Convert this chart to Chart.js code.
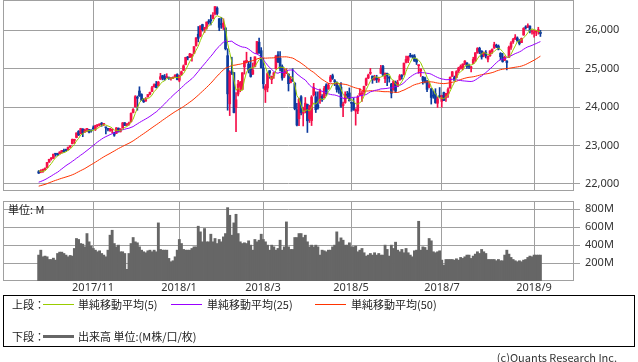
<!DOCTYPE html>
<html>
<head>
<meta charset="utf-8">
<script src="https://cdn.jsdelivr.net/npm/chart.js@4.4.0/dist/chart.umd.min.js"></script>
<style>
body { margin: 0; width: 638px; height: 362px; background: #fff; position: relative; overflow: hidden;
       font-family: "Noto Sans CJK JP", "Noto Sans", sans-serif; color: #222; }
canvas { position: absolute; left: 0; }
#priceChart { top: 0; }
#volumeChart { top: 200px; }
.t { position: absolute; font-size: 11px; line-height: 14px; white-space: nowrap; }
.ln { position: absolute; height: 1px; }
#legendBox { position: absolute; left: 3px; top: 295px; width: 632px; height: 52px; box-sizing: border-box; border: 1px solid #000; }
</style>
</head>
<body>
<canvas id="priceChart" width="638" height="191"></canvas>
<canvas id="volumeChart" width="638" height="96"></canvas>

<div class="t" style="left:8px;top:202px;">単位: M</div>

<div id="legendBox"></div>
<div class="t" style="left:12px;top:297px;">上段：</div>
<div class="ln" style="left:43px;top:304px;width:31px;background:#99cc00;"></div>
<div class="t" style="left:78px;top:297px;">単純移動平均(5)</div>
<div class="ln" style="left:171px;top:304px;width:31px;background:#9900ff;"></div>
<div class="t" style="left:207px;top:297px;">単純移動平均(25)</div>
<div class="ln" style="left:315px;top:304px;width:31px;background:#ff3300;"></div>
<div class="t" style="left:351px;top:297px;">単純移動平均(50)</div>
<div class="t" style="left:12px;top:329px;">下段：</div>
<div class="ln" style="left:43px;top:335px;width:31px;height:3px;background:#666;"></div>
<div class="t" style="left:78px;top:329px;">出来高 単位:(M株/口/枚)</div>
<div class="t" style="right:21px;top:350px;color:#333;">(c)Quants Research Inc.</div>

<script>
// Daily candles, 2017/9/26 - 2018/9/7 (240 trading days)

// closes before the first candle, only used for the moving averages
const priorCloses = [
    21574, 21641, 21611, 21580, 21513, 21613, 21711, 21796, 21830, 21891,
    21963, 22016, 22026, 22092, 22118, 22085, 22048, 21844, 21858, 21993, 21998, 22024,
    21750, 21674, 21703, 21899, 21812, 21783, 21814, 21808, 21865, 21892, 21948,
    21988, 21753, 21807, 21784, 21798, 22057, 22118, 22158, 22203, 22268, 22331, 22370,
    22412, 22359, 22349, 22296
];

const opens = [
    22320, 22310, 22330, 22370,
    22423, 22570, 22655, 22670, 22780, 22790, 22790, 22830, 22870, 22875, 22890, 22960, 23050, 23130, 23210, 23370, 23310, 23430, 23350, 23420, 23410, 23380,
    23440, 23420, 23520, 23540, 23560, 23550, 23470, 23440, 23390, 23400, 23330, 23320, 23450, 23370, 23460, 23590, 23540, 23560, 23620, 23860, 24010,
    24250, 24420, 24330, 24170, 24160, 24270, 24340, 24410, 24530, 24600, 24560, 24730, 24820, 24800, 24770, 24770, 24740, 24750, 24790, 24850,
    24700, 24850, 24960, 25110, 25310, 25300, 25320, 25400, 25600, 25900, 25850, 26150, 26030, 26060, 26240, 26260, 26310, 26430, 26580, 26300, 26150,
    26080, 26060, 25340, 24086, 24900, 24900, 23990, 24340, 24540, 24460, 25050, 25170, 25120, 25000, 24860, 25060, 25400, 25690, 25470,
    25020, 24450, 24500, 24950, 24720, 24830, 25000, 25360, 25270, 25060, 24810, 24880, 24860, 24640, 24710, 24620, 23930, 23700, 24270, 23840, 23900,
    24070, 23700, 23650, 24320, 24270, 24060, 24180, 24280, 24250, 24580, 24480, 24670, 24820, 24680, 24630, 24500, 24520, 24040, 24120, 24320, 24370,
    24120, 24100, 23900, 23900, 24320, 24340, 24400, 24580, 24760, 24880, 24810, 24710, 24760, 24700, 24880, 25060, 24740, 24880, 24780, 24600, 24450, 24650,
    24540, 24710, 24830, 24840, 25170, 25220, 25340, 25350, 25330, 25250, 25080, 24940, 24780, 24760, 24660, 24520, 24480, 24290, 24350, 24100, 24300,
    24150, 24380, 24250, 24340, 24500, 24800, 24770, 24770, 24940, 25020, 25000, 25130, 25150, 25060, 25020, 25140, 25230, 25420, 25530, 25460, 25360,
    25420, 25250, 25340, 25450, 25540, 25600, 25590, 25400, 25300, 25220, 25200, 25300, 25560, 25700, 25770, 25800, 25730, 25680, 25880, 26080, 26080, 26110, 25960,
    25920, 25960, 25990, 25950
];

const highs = [
    22350, 22370, 22384, 22420,
    22565, 22645, 22685, 22777, 22790, 22800, 22840, 22873, 22905, 22905, 22960, 23003, 23170, 23164, 23330, 23390, 23450, 23440, 23430, 23450, 23420, 23410,
    23510, 23530, 23540, 23560, 23600, 23570, 23480, 23450, 23450, 23420, 23350, 23470, 23460, 23440, 23600, 23600, 23570, 23610, 23850, 23960, 24300,
    24290, 24530, 24350, 24220, 24250, 24330, 24390, 24540, 24610, 24670, 24670, 24880, 24830, 24850, 24870, 24780, 24770, 24790, 24840, 24870,
    24830, 24940, 25100, 25300, 25320, 25400, 25380, 25580, 25810, 26100, 26120, 26160, 26080, 26220, 26280, 26400, 26460, 26617, 26610, 26310, 26340,
    26300, 26070, 25520, 24950, 25300, 24900, 24380, 24700, 24670, 24900, 25200, 25430, 25190, 25300, 25150, 25310, 25710, 25800, 25550,
    25270, 24590, 24900, 24950, 24810, 24900, 25340, 25450, 25450, 25100, 25000, 25000, 24870, 24800, 25000, 24640, 24100, 24230, 24300, 24000, 24250,
    24080, 24050, 24300, 24620, 24400, 24400, 24470, 24330, 24540, 24610, 24620, 24830, 24860, 24720, 24660, 24560, 24640, 24130, 24400, 24410, 24500,
    24130, 24240, 23960, 24300, 24480, 24410, 24550, 24760, 24860, 25010, 24810, 24830, 24830, 24780, 25090, 25090, 24890, 24890, 24800, 24620, 24700, 24680,
    24700, 24850, 24850, 25150, 25330, 25330, 25400, 25360, 25370, 25250, 25100, 25000, 24800, 24780, 24700, 24660, 24480, 24420, 24480, 24260, 24510,
    24310, 24390, 24360, 24500, 24790, 24930, 24810, 24950, 25040, 25100, 25130, 25210, 25160, 25120, 25060, 25300, 25420, 25550, 25560, 25470, 25440,
    25470, 25330, 25470, 25520, 25690, 25640, 25620, 25420, 25400, 25330, 25210, 25590, 25710, 25790, 25890, 25830, 25760, 25800, 26070, 26120, 26170, 26120, 26010,
    26000, 26000, 26080, 26000
];

const lows = [
    22270, 22290, 22300, 22360,
    22420, 22560, 22620, 22660, 22720, 22740, 22780, 22800, 22820, 22855, 22880, 22950, 23040, 23050, 23200, 23260, 23300, 23230, 23340, 23360, 23330, 23350,
    23420, 23390, 23480, 23510, 23500, 23520, 23300, 23380, 23370, 23330, 23240, 23310, 23350, 23350, 23450, 23520, 23520, 23530, 23610, 23850, 24000,
    23920, 24280, 24170, 24120, 24150, 24260, 24320, 24400, 24520, 24500, 24550, 24720, 24710, 24700, 24760, 24720, 24700, 24740, 24780, 24710,
    24660, 24830, 24950, 25100, 25230, 25290, 25200, 25390, 25590, 25700, 25830, 25980, 25940, 26030, 26160, 26140, 26300, 26400, 26410, 25990, 26050,
    26020, 25490, 23920, 23780, 24850, 23850, 23360, 24290, 24400, 24450, 24860, 25150, 24890, 24780, 24850, 25050, 25390, 25400, 25020,
    24490, 24120, 24400, 24750, 24610, 24750, 24990, 25160, 24940, 24700, 24770, 24870, 24420, 24630, 24670, 23930, 23510, 23520, 23800, 23510, 23850,
    23340, 23600, 23520, 24290, 23860, 23950, 24100, 24150, 24240, 24300, 24460, 24650, 24720, 24560, 24390, 24360, 23990, 23750, 24100, 24240, 24160,
    23890, 23920, 23530, 23830, 24300, 24150, 24330, 24560, 24740, 24850, 24620, 24700, 24640, 24650, 24880, 24810, 24640, 24560, 24650, 24240, 24440, 24380,
    24530, 24700, 24730, 24840, 25150, 25160, 25300, 25280, 25190, 25110, 24880, 24800, 24600, 24630, 24400, 24500, 24080, 24230, 24100, 23990, 24250,
    24000, 24170, 24150, 24250, 24490, 24800, 24700, 24760, 24900, 24990, 24970, 25100, 25010, 25000, 24920, 25130, 25190, 25400, 25390, 25250, 25310,
    25280, 25180, 25320, 25400, 25530, 25550, 25490, 25230, 25170, 25210, 24970, 25290, 25500, 25660, 25760, 25700, 25620, 25680, 25870, 26030, 26070, 25930, 25900,
    25820, 25860, 25900, 25840
];

const closes = [
    22284, 22341, 22381, 22405,
    22557, 22641, 22661, 22775, 22774, 22761, 22831, 22873, 22841, 22872, 22957, 22997, 23158, 23163, 23329, 23274, 23441, 23329, 23401, 23434, 23349, 23377,
    23435, 23517, 23539, 23548, 23557, 23563, 23461, 23422, 23440, 23409, 23271, 23458, 23358, 23431, 23590, 23526, 23558, 23580, 23836, 23940, 24272,
    24231, 24290, 24180, 24140, 24211, 24329, 24387, 24505, 24585, 24509, 24652, 24792, 24754, 24726, 24782, 24754, 24746, 24775, 24838, 24719,
    24824, 24922, 25075, 25296, 25283, 25386, 25370, 25575, 25803, 25793, 26116, 26018, 26072, 26215, 26211, 26252, 26393, 26617, 26439, 26077, 26149,
    26186, 25521, 24346, 24913, 24893, 23860, 24191, 24601, 24641, 24893, 25200, 25219, 24965, 24798, 24963, 25310, 25709, 25410, 25029,
    24609, 24538, 24875, 24885, 24801, 24895, 25336, 25179, 25008, 24759, 24874, 24947, 24611, 24727, 24683, 23958, 23533, 24202, 23857, 23849, 24103,
    23644, 24034, 24264, 24505, 23933, 23979, 24408, 24190, 24484, 24360, 24574, 24787, 24749, 24665, 24463, 24449, 24025, 24084, 24323, 24311, 24163,
    24100, 23925, 23930, 24263, 24358, 24361, 24542, 24740, 24831, 24900, 24707, 24769, 24714, 24715, 25013, 24835, 24887, 24811, 24753, 24362, 24668, 24416,
    24635, 24814, 24799, 25146, 25241, 25317, 25322, 25320, 25201, 25175, 25090, 24987, 24700, 24657, 24462, 24580, 24252, 24284, 24117, 24216, 24271,
    24307, 24175, 24357, 24456, 24776, 24920, 24700, 24925, 25019, 25064, 25120, 25199, 25064, 25058, 25044, 25241, 25415, 25528, 25451, 25307, 25415,
    25333, 25327, 25463, 25502, 25629, 25583, 25509, 25313, 25188, 25300, 25162, 25559, 25669, 25758, 25822, 25733, 25657, 25790, 26050, 26065, 26124, 25987, 25965,
    25952, 25975, 25996, 25917
];

// volume in millions
const volumes = [
    289, 344, 270, 278, 270, 240, 240, 255, 233, 307, 322, 322, 307, 289, 270, 285, 278, 363, 474, 463, 418, 411, 381, 529, 437, 389,
    363, 344, 326, 337, 307, 289, 270, 344, 511, 566, 418, 381, 400, 326, 326, 307, 130,
    307, 418, 485, 437, 426, 381, 344, 326, 315, 337, 344, 326, 344, 326, 648, 352, 344, 344, 344, 252, 215, 226, 270, 344,
    463, 418, 352, 344, 344, 344, 363, 381, 381, 611, 548, 437, 585, 437, 437, 522, 437, 474, 418, 463, 437, 492, 529,
    818, 733, 511, 648, 744, 529, 437, 418, 426, 418, 448, 400, 344, 463, 437, 455, 522, 463, 437, 400, 344, 400, 381, 344, 363, 455, 344, 381, 659,
    381, 352, 352, 485, 485, 529, 529, 485, 511, 437,
    381, 400, 381, 400, 381, 289, 344, 337, 326, 344, 344, 381, 400, 548, 437, 481, 455, 400, 400, 426,
    381, 381, 389, 326, 344, 363, 315, 278, 289, 307, 289, 315, 289, 307, 289, 289, 400, 352, 278, 400, 363, 433, 344, 326, 352, 315, 363, 315, 289, 270, 337, 344, 666, 344, 381, 374, 344, 474, 448, 326, 315, 326, 337,
    233, 178, 240, 240, 240, 240, 233, 248, 233, 263, 252, 270, 289, 289, 252, 278, 300, 326, 307, 352, 326, 307, 240, 240, 240, 240, 226, 240, 226, 226, 289, 344, 300, 263, 240, 226, 215, 226, 215, 233, 240, 263, 278, 270, 289, 289, 289, 289
];

// first trading day of each labelled month (index into the arrays above)
const monthIdx = [26, 67, 107, 149, 192, 236];
const monthLabels = ['2017/11', '2018/1', '2018/3', '2018/5', '2018/7', '2018/9'];
const priceTicks = [22000, 23000, 24000, 25000, 26000];
const volumeTicks = [200, 400, 600, 800];

const UP = '#f5104a';
const DOWN = '#0d3b9e';
const GRID = '#a0a0a0';
const TEXT = '#333';
const FONT_CSS = '11px "Noto Sans", sans-serif';

const allCloses = priorCloses.concat(closes);
function sma(period) {
    return closes.map((_, i) => {
        const end = priorCloses.length + i + 1;
        const slice = allCloses.slice(end - period, end);
        return { x: i, y: slice.reduce((s, v) => s + v, 0) / period };
    });
}

const candleColors = closes.map((c, i) => (c >= opens[i] ? UP : DOWN));

// frame around the plot area
const framePlugin = {
    id: 'frame',
    beforeDatasetsDraw(chart) {
        const { ctx, chartArea: a } = chart;
        ctx.save();
        ctx.strokeStyle = GRID;
        ctx.lineWidth = 1;
        ctx.strokeRect(Math.round(a.left) + 0.5, Math.round(a.top) + 0.5,
            Math.round(a.right - a.left) - 1, Math.round(a.bottom - a.top) - 1);
        ctx.restore();
    }
};

// right-hand value labels, drawn by hand so they add no padding to the layout
function yLabelPlugin(fmt) {
    return {
        id: 'yLabels',
        afterDraw(chart) {
            const { ctx, chartArea: a } = chart;
            const y = chart.scales.y;
            ctx.save();
            ctx.fillStyle = TEXT;
            ctx.font = FONT_CSS;
            ctx.textBaseline = 'middle';
            ctx.textAlign = 'left';
            y.ticks.forEach(t => ctx.fillText(fmt(t.value), a.right + 11, Math.round(y.getPixelForValue(t.value))));
            ctx.restore();
        }
    };
}

function xScale(extra) {
    return Object.assign({
        type: 'linear',
        min: -17,
        max: 255,
        offset: false,
        grid: { color: GRID, drawTicks: false, offset: false },
        border: { display: false },
        ticks: { display: false },
        afterBuildTicks: (s) => { s.ticks = monthIdx.map(v => ({ value: v })); }
    }, extra);
}

function yScale(min, max, ticks) {
    return {
        position: 'right',
        min: min,
        max: max,
        grid: { color: GRID, tickLength: 6 },
        border: { display: false },
        ticks: { display: false },
        afterBuildTicks: (s) => { s.ticks = ticks.map(v => ({ value: v })); },
        afterFit: (s) => { s.width = 64; }
    };
}

// Price chart
new Chart(document.getElementById('priceChart'), {
    type: 'bar',
    data: {
        datasets: [
            {
                type: 'line', label: 'MA5', data: sma(5), borderColor: '#99cc00',
                borderWidth: 1, pointRadius: 0, order: 1
            },
            {
                type: 'line', label: 'MA25', data: sma(25), borderColor: '#9900ff',
                borderWidth: 1, pointRadius: 0, order: 1
            },
            {
                type: 'line', label: 'MA50', data: sma(50), borderColor: '#ff3300',
                borderWidth: 1, pointRadius: 0, order: 1
            },
            {
                type: 'bar', label: 'wick', grouped: false, barThickness: 1, order: 3,
                data: closes.map((_, i) => ({ x: i, y: [lows[i], highs[i]] })),
                backgroundColor: candleColors
            },
            {
                type: 'bar', label: 'body', grouped: false, barThickness: 2, minBarLength: 1, order: 2,
                data: closes.map((c, i) => ({ x: i, y: [opens[i], c] })),
                backgroundColor: candleColors
            }
        ]
    },
    options: {
        responsive: false,
        animation: false,
        layout: { autoPadding: false, padding: { left: 3, top: 0, right: 0, bottom: 0 } },
        plugins: { legend: { display: false }, tooltip: { enabled: false } },
        scales: {
            x: xScale({ afterFit: (s) => { s.height = 0; } }),
            y: yScale(21816, 26790, priceTicks)
        }
    },
    plugins: [framePlugin, yLabelPlugin(v => v.toLocaleString('en-US'))]
});

// Volume chart
new Chart(document.getElementById('volumeChart'), {
    type: 'bar',
    data: {
        datasets: [{
            label: 'Volume',
            data: volumes.map((v, i) => ({ x: i, y: v })),
            backgroundColor: '#666666',
            barThickness: 2.2,
            grouped: false
        }]
    },
    options: {
        responsive: false,
        animation: false,
        layout: { autoPadding: false, padding: { left: 3, top: 1, right: 0, bottom: 0 } },
        plugins: { legend: { display: false }, tooltip: { enabled: false } },
        scales: {
            x: xScale({ afterFit: (s) => { s.height = 15; } }),
            y: yScale(0, 892, volumeTicks)
        }
    },
    plugins: [framePlugin, yLabelPlugin(v => v + 'M'), {
        id: 'xLabels',
        afterDraw(chart) {
            const { ctx, chartArea: a } = chart;
            const x = chart.scales.x;
            ctx.save();
            ctx.fillStyle = TEXT;
            ctx.font = FONT_CSS;
            ctx.textBaseline = 'middle';
            ctx.textAlign = 'center';
            monthIdx.forEach((v, k) => ctx.fillText(monthLabels[k], Math.round(x.getPixelForValue(v)), a.bottom + 7));
            ctx.restore();
        }
    }]
});
</script>
</body>
</html>
